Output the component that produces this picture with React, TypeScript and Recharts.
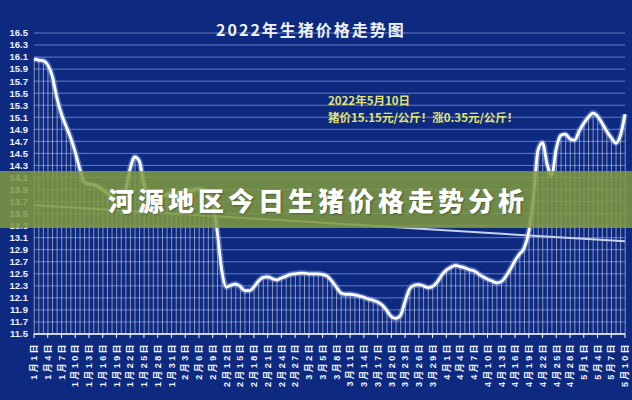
import { ComposedChart, Line, Bar, XAxis, YAxis, CartesianGrid } from "recharts"

// x-axis labels, one every 3 days
const tickLabels = [
  "1月1日", "1月4日", "1月7日", "1月10日", "1月13日", "1月16日", "1月19日", "1月22日", "1月25日", "1月28日", "1月31日",
  "2月3日", "2月6日", "2月9日", "2月12日", "2月15日", "2月18日", "2月21日", "2月24日", "2月27日",
  "3月2日", "3月5日", "3月8日", "3月11日", "3月14日", "3月17日", "3月20日", "3月23日", "3月26日", "3月29日",
  "4月1日", "4月4日", "4月7日", "4月10日", "4月13日", "4月16日", "4月19日", "4月22日", "4月25日", "4月28日",
  "5月1日", "5月4日", "5月7日", "5月10日",
]

// daily price (元/公斤), 1月1日 .. 5月10日
const prices = [
  16.07, 16.05, 16.04, 15.97, 15.78, 15.42, 15.15, 14.95, 14.76, 14.52,
  14.24, 14.02, 13.99, 13.98, 13.95, 13.9, 13.84, 13.78, 13.74, 13.76,
  13.88, 14.25, 14.44, 14.37, 13.98, 13.76, 13.74, 13.76, 13.79, 13.82,
  13.84, 13.85, 13.85, 13.86, 13.88, 13.9, 13.91, 13.9, 13.85, 13.7,
  13.2, 12.55, 12.28, 12.31, 12.33, 12.29, 12.22, 12.22, 12.28, 12.38,
  12.44, 12.45, 12.42, 12.4, 12.43, 12.46, 12.49, 12.5, 12.51, 12.51,
  12.5, 12.5, 12.5, 12.49, 12.46, 12.38, 12.28, 12.18, 12.16, 12.16,
  12.15, 12.13, 12.11, 12.08, 12.06, 12.03, 11.98, 11.89, 11.79, 11.76,
  11.81, 12.04, 12.25, 12.31, 12.32, 12.3, 12.27, 12.29, 12.36, 12.48,
  12.56, 12.61, 12.64, 12.62, 12.6, 12.57, 12.55, 12.5, 12.45, 12.41,
  12.38, 12.35, 12.37, 12.46, 12.58, 12.72, 12.83, 12.93, 13.2, 13.75,
  14.55, 14.68, 14.32, 14.14, 14.58, 14.8, 14.82, 14.74, 14.72, 14.87,
  15.0, 15.1, 15.17, 15.12, 15.0, 14.87, 14.76, 14.67, 14.8, 15.15,
]

// straight trend line, start and end values
const trendStart = 13.64
const trendEnd = 13.04

const yTicks = [
  11.5, 11.7, 11.9, 12.1, 12.3, 12.5, 12.7, 12.9, 13.1, 13.3, 13.5, 13.7, 13.9,
  14.1, 14.3, 14.5, 14.7, 14.9, 15.1, 15.3, 15.5, 15.7, 15.9, 16.1, 16.3, 16.5,
]

const chartData = prices.map((price, i) => ({
  day: i,
  price,
  trend: i === 0 ? trendStart : i === prices.length - 1 ? trendEnd : null,
}))
const xTicks = tickLabels.map((_, i) => i * 3)

const FONT = '"Noto Sans CJK SC", "Noto Sans", sans-serif'
const AXIS_FONT = '"Liberation Sans", "Noto Sans CJK SC", sans-serif'

function DateTick({ x, y, payload }: any) {
  const label = tickLabels[Math.round(payload.value / 3)]
  return (
    <text
      x={x}
      y={y + 2}
      transform={`rotate(-90, ${x}, ${y + 2})`}
      textAnchor="end"
      dy="0.36em"
      fill="#f2f5fc"
      fontSize={9}
      fontWeight={700}
      letterSpacing={2.4}
      fontFamily={AXIS_FONT}
    >
      {label}
    </text>
  )
}

export default function App() {
  return (
    <div
      style={{
        position: "absolute",
        left: 0,
        top: 0,
        width: 632,
        height: 400,
        background: "#0e2a80",
        overflow: "hidden",
        fontFamily: FONT,
      }}
    >
      <ComposedChart
        width={632}
        height={400}
        data={chartData}
        margin={{ top: 33, right: 7, bottom: 6, left: 4 }}
      >
        <CartesianGrid vertical={false} stroke="rgba(170,190,240,0.55)" strokeWidth={1} />
        <XAxis
          type="number"
          dataKey="day"
          domain={[0, prices.length - 1]}
          ticks={xTicks}
          interval={0}
          tick={<DateTick />}
          tickSize={4}
          tickLine={{ stroke: "#ffffff" }}
          axisLine={{ stroke: "#ffffff", strokeWidth: 1.5 }}
          height={60}
        />
        <YAxis
          domain={[11.5, 16.5]}
          ticks={yTicks}
          interval={0}
          allowDataOverflow
          tickFormatter={(v: number) => v.toFixed(1)}
          axisLine={false}
          tickLine={false}
          tickSize={0}
          tickMargin={6}
          width={30}
          tick={{ fill: "#eef2fb", fontSize: 9.5, fontWeight: 700, fontFamily: AXIS_FONT }}
        />
        {/* drop lines from each day down to the axis */}
        <Bar dataKey="price" barSize={1} fill="rgba(255,255,255,0.5)" isAnimationActive={false} />
        <Line
          dataKey="trend"
          type="linear"
          connectNulls
          stroke="#c9d1ea"
          strokeWidth={2}
          dot={false}
          isAnimationActive={false}
        />
        {/* soft glow under the curve */}
        <Line
          dataKey="price"
          type="monotone"
          stroke="rgba(150,180,255,0.45)"
          strokeWidth={6}
          dot={false}
          isAnimationActive={false}
        />
        <Line
          dataKey="price"
          type="monotone"
          stroke="#ffffff"
          strokeWidth={2.8}
          dot={false}
          isAnimationActive={false}
        />
      </ComposedChart>

      <div
        style={{
          position: "absolute",
          left: 0,
          top: 19,
          width: 622,
          textAlign: "center",
          color: "#eef2fa",
          fontSize: 16,
          fontWeight: 600,
          letterSpacing: 2,
          lineHeight: "20px",
        }}
      >
        2022年生猪价格走势图
      </div>

      <div
        style={{
          position: "absolute",
          left: 328,
          top: 92,
          color: "#e3e46f",
          fontSize: 11.5,
          fontWeight: 700,
          lineHeight: "16.5px",
          whiteSpace: "nowrap",
        }}
      >
        <div>2022年5月10日</div>
        <div>猪价15.15元/公斤！涨0.35元/公斤！</div>
      </div>

      <div
        style={{
          position: "absolute",
          left: 0,
          top: 171,
          width: 632,
          height: 57,
          background: "rgba(128,155,62,0.85)",
          color: "#ffffff",
          fontSize: 26,
          fontWeight: 900,
          letterSpacing: 4,
          lineHeight: "57px",
          textAlign: "center",
          paddingLeft: 4,
          boxSizing: "border-box",
          textShadow: "1px 1px 2px rgba(0,0,0,0.35)",
          whiteSpace: "nowrap",
        }}
      >
        河源地区今日生猪价格走势分析
      </div>
    </div>
  )
}
